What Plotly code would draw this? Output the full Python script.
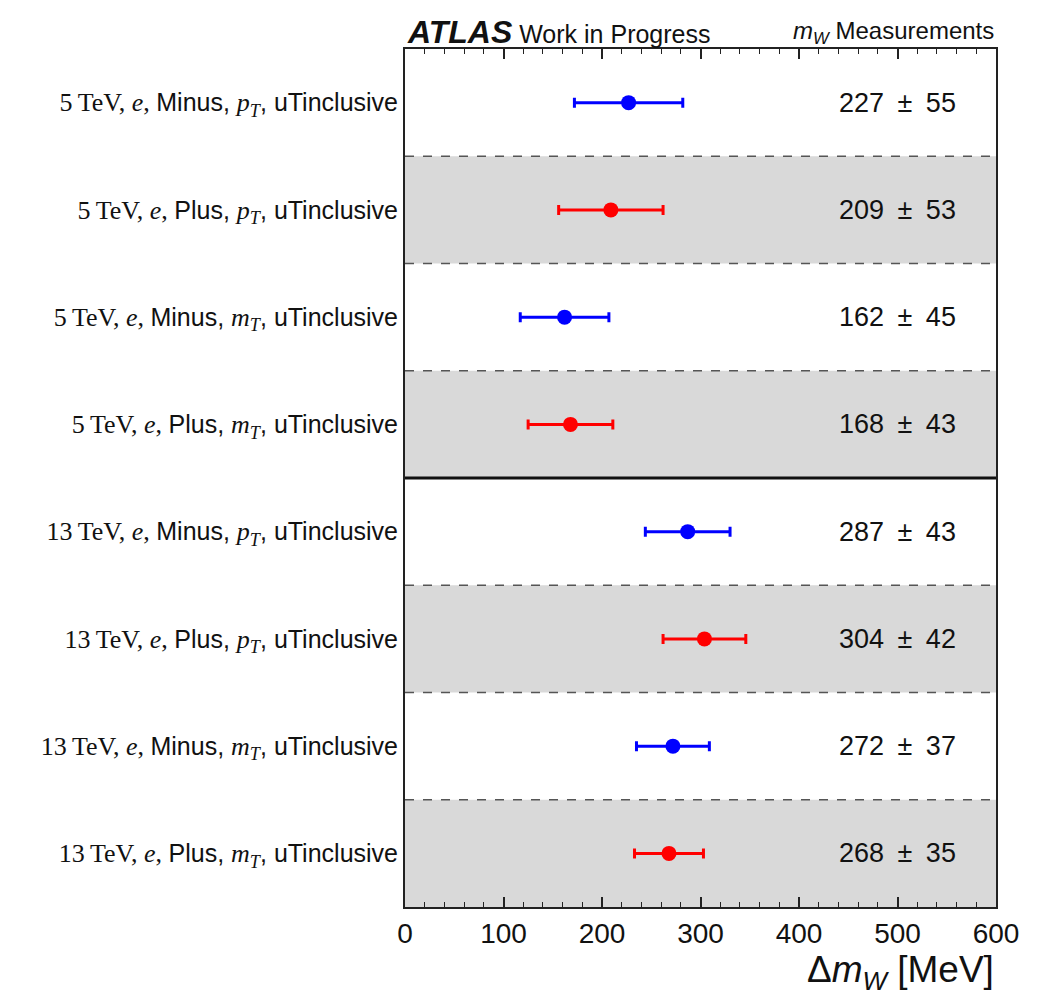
import plotly.graph_objects as go

energies = ["5", "5", "5", "5", "13", "13", "13", "13"]
charges = ["Minus", "Plus", "Minus", "Plus", "Minus", "Plus", "Minus", "Plus"]
observables = ["p", "p", "m", "m", "p", "p", "m", "m"]
central = [227, 209, 162, 168, 287, 304, 272, 268]
errors = [55, 53, 45, 43, 43, 42, 37, 35]
colors = ["#0000ff" if c == "Minus" else "#ff0000" for c in charges]

SERIF = "Liberation Serif"
SANS = "Liberation Sans"

def label(e, ch, obs):
    return (f"<span style='font-family:{SERIF};font-size:26px'>{e}\u2009TeV, <i>e</i>, </span>"
            f"{ch}, "
            f"<span style='font-family:{SERIF};font-size:26px'><i>{obs}</i><sub><i>T</i></sub></span>"
            f", uTinclusive")

ticktext = [label(e, c, o) for e, c, o in zip(energies, charges, observables)]
ypos = list(range(len(central)))

fig = go.Figure()

shapes = []
for i in ypos:
    if i % 2 == 1:
        shapes.append(dict(type="rect", xref="x domain", yref="y", x0=0, x1=1,
                           y0=i - 0.5, y1=i + 0.5, fillcolor="#d9d9d9",
                           line=dict(width=0), layer="below"))
for b in [0.5, 1.5, 2.5, 4.5, 5.5, 6.5]:
    shapes.append(dict(type="line", xref="x domain", yref="y", x0=0, x1=1, y0=b, y1=b,
                       line=dict(color="#555555", width=1.5, dash="dash"), layer="above"))
shapes.append(dict(type="line", xref="x domain", yref="y", x0=0, x1=1, y0=3.5, y1=3.5,
                   line=dict(color="#111111", width=3), layer="above"))

for i in ypos:
    fig.add_trace(go.Scatter(
        x=[central[i]], y=[i], mode="markers",
        marker=dict(color=colors[i], size=15),
        error_x=dict(type="data", array=[errors[i]], color=colors[i], thickness=3, width=5),
        showlegend=False, cliponaxis=False))

annotations = []
for i in ypos:
    annotations.append(dict(x=500, y=i, xref="x", yref="y",
                            text=f"{central[i]}\u2002\u00b1\u2002{errors[i]}", showarrow=False,
                            font=dict(size=27, color="#111111", family=SANS),
                            xanchor="center", yanchor="middle"))
annotations.append(dict(x=0, y=1, xref="paper", yref="paper", xanchor="left", yanchor="bottom",
                        yshift=-3, showarrow=False,
                        text="<span style='font-size:32px'><b><i>ATLAS</i></b></span> Work in Progress",
                        font=dict(size=25, color="#111111", family=SANS)))
annotations.append(dict(x=1, y=1, xref="paper", yref="paper", xanchor="right", yanchor="bottom",
                        yshift=-1, showarrow=False,
                        text="<i>m</i><sub><i>W</i></sub> Measurements",
                        font=dict(size=24, color="#111111", family=SANS)))
annotations.append(dict(x=1, y=0, xref="paper", yref="paper", xanchor="right", yanchor="top",
                        yshift=-40, showarrow=False,
                        text="\u0394<i>m</i><sub><i>W</i></sub> [MeV]",
                        font=dict(size=37, color="#111111", family=SANS)))

fig.update_layout(
    width=1040, height=995,
    margin=dict(l=405, r=44, t=49, b=88),
    plot_bgcolor="white", paper_bgcolor="white",
    shapes=shapes, annotations=annotations,
    xaxis=dict(range=[0, 600], dtick=100, ticks="inside", ticklen=10, tickwidth=1.5,
               tickcolor="#222222", showline=True, linecolor="#222222", linewidth=2,
               mirror="allticks", showgrid=False, zeroline=False,
               tickfont=dict(size=28, color="#111111", family=SANS),
               minor=dict(dtick=20, ticks="inside", ticklen=5, tickwidth=1.2, tickcolor="#222222")),
    yaxis=dict(range=[7.5, -0.5], tickmode="array", tickvals=ypos, ticktext=ticktext,
               ticks="", showline=True, linecolor="#222222", linewidth=2, mirror=True,
               showgrid=False, zeroline=False,
               tickfont=dict(size=25, color="#111111", family=SANS)),
)

fig.write_html("out.html")
